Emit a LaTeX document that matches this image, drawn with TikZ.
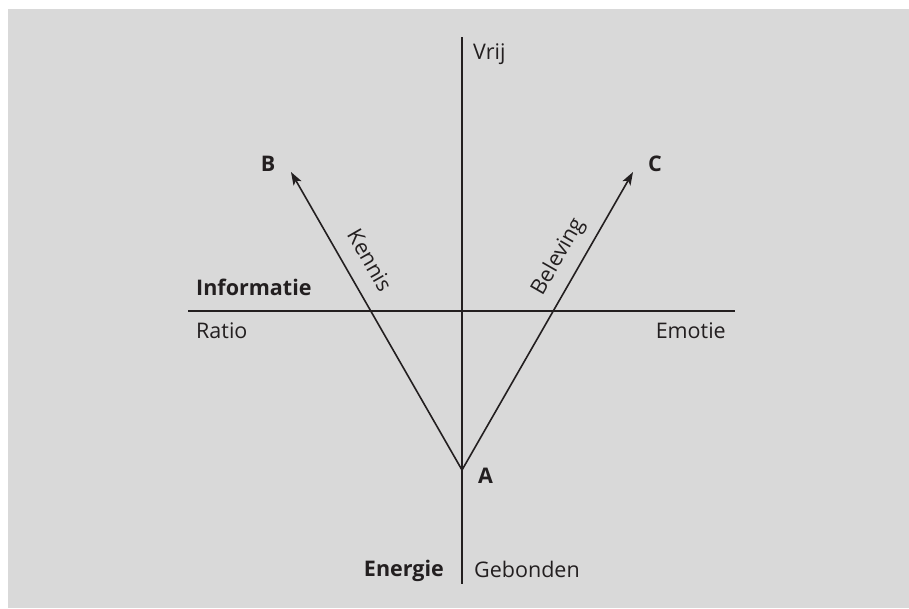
\documentclass[tikz,border=0pt]{standalone}
\usepackage{fontspec}
\setmainfont{Open Sans}
\usetikzlibrary{arrows.meta}
\definecolor{bg}{HTML}{D9D9D9}
\definecolor{ink}{HTML}{231F20}
\tikzset{
  axis/.style={draw=ink, line width=2pt},
  vec/.style={draw=ink, line width=1.6pt, -{Stealth[length=13pt,width=9pt,inset=3pt]}},
  lbl/.style={text=ink, font=\fontsize{21.5}{24}\selectfont, inner sep=0pt},
  blbl/.style={lbl, font=\fontsize{21.5}{24}\selectfont\bfseries},
  vlbl/.style={text=ink, font=\fontsize{21.5}{24}\selectfont, inner sep=3pt, text depth=0pt}
}
\begin{document}
\begin{tikzpicture}[x=1pt,y=-1pt]
\useasboundingbox (0,0) rectangle (909,608);
\fill[bg] (8,9) rectangle (909,608);
% axis end points
\coordinate (top) at (462,37);
\coordinate (bot) at (462,584);
\coordinate (left) at (188,311);
\coordinate (right) at (735,311);
\coordinate (a) at (462,470);
\coordinate (btip) at (291,172);
\coordinate (ctip) at (633,172);
\draw[axis] (top) -- (bot);
\draw[axis] (left) -- (right);
\draw[vec] (a) -- node[vlbl, pos=0.663, sloped, above=13pt] (kennis) {Kennis} (btip);
\draw[vec] (a) -- node[vlbl, pos=0.678, sloped, above=13pt] (beleving) {Beleving} (ctip);
% labels
\node[lbl, anchor=base west] (vrij) at (473,59) {Vrij};
\node[blbl, anchor=base west] (info) at (196,295) {Informatie};
\node[lbl, anchor=base west] (ratio) at (196,338) {Ratio};
\node[lbl, anchor=base east] (emotie) at (726,338) {Emotie};
\node[blbl, anchor=base east] (energie) at (444,576) {Energie};
\node[lbl, anchor=base west] (gebonden) at (474,577) {Gebonden};
\node[blbl, anchor=base west] (A) at (478,483) {A};
\node[blbl, anchor=base] (B) at (268,171) {B};
\node[blbl, anchor=base] (C) at (655,171) {C};
\end{tikzpicture}
\end{document}
